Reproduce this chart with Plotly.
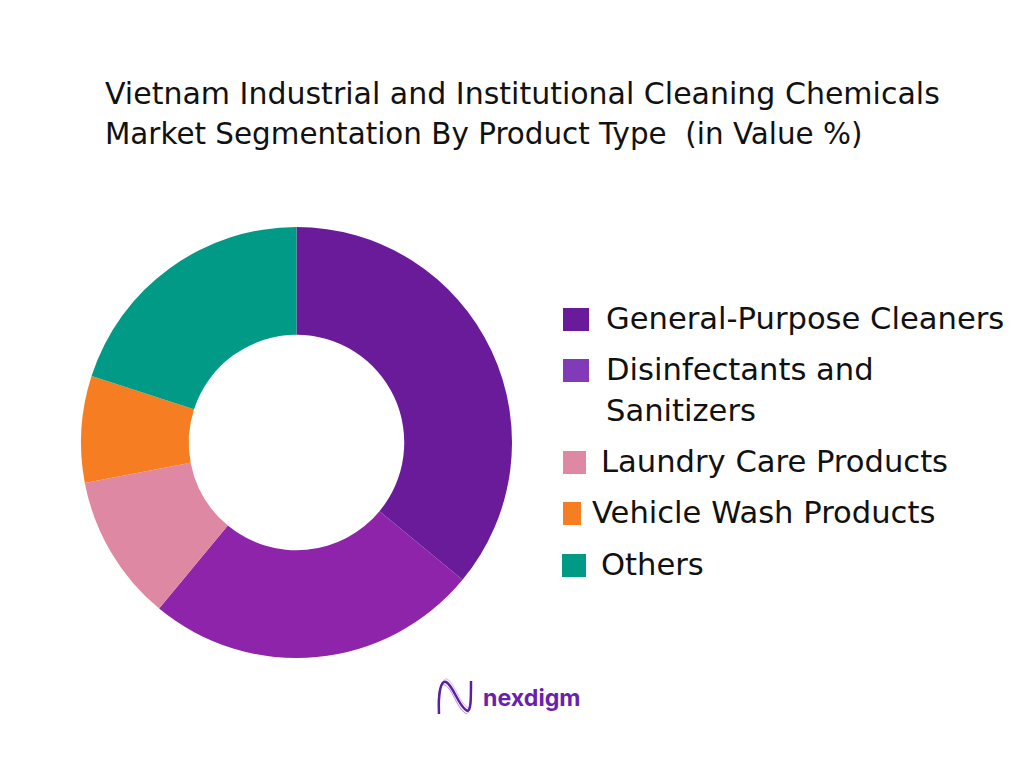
import plotly.graph_objects as go

### Data ###
categories = [
    "General-Purpose Cleaners",
    "Disinfectants and<br>Sanitizers",
    "Laundry Care Products",
    "Vehicle Wash Products",
    "Others",
]
values = [36, 25, 11, 8, 20]
colors = ["#691b9a", "#8e24aa", "#df88a3", "#f77d22", "#009a87"]
legend_colors = ["#691b9a", "#823bb8", "#df88a3", "#f77d22", "#009a87"]
title_lines = [
    "Vietnam Industrial and Institutional Cleaning Chemicals",
    "Market Segmentation By Product Type  (in Value %)",
]
brand = "nexdigm"

W, H = 1024, 768
FONT = "DejaVu Sans"
TITLE_SIZES = [30, 29.4]
LEGEND_SIZE = 30.6
LINE_GAP = 41

# legend layout, in pixels from the top left: swatch x0, x1, y0, y1, text x, text y
legend_boxes = [
    (563, 589, 308, 331, 604, 318),
    (563, 589, 359, 382, 604, 369),
    (563, 586, 451, 474, 599, 461),
    (563, 581, 502, 525, 590, 512),
    (562, 586, 554, 577, 599, 564),
]


def px(x):
    return x / W


def py(y):
    return 1 - y / H


def text_at(text, x, y, size, color="#111111", family=FONT):
    return dict(
        text=text,
        x=px(x),
        y=py(y),
        xref="paper",
        yref="paper",
        xanchor="left",
        yanchor="middle",
        showarrow=False,
        font=dict(family=family, size=size, color=color),
    )


fig = go.Figure()
fig.add_trace(
    go.Pie(
        labels=[c.replace("<br>", " ") for c in categories],
        values=values,
        sort=False,
        direction="clockwise",
        rotation=0,
        hole=0.5,
        textinfo="none",
        hoverinfo="label+percent",
        marker=dict(colors=colors, line=dict(width=0)),
        domain=dict(x=[px(81), px(512)], y=[py(658), py(227)]),
        showlegend=False,
    )
)

shapes = []
annotations = []

for i, line in enumerate(title_lines):
    annotations.append(text_at(line, 103, 93 + i * LINE_GAP, TITLE_SIZES[i]))

for name, color, box in zip(categories, legend_colors, legend_boxes):
    x0, x1, y0, y1, tx, ty = box
    shapes.append(
        dict(
            type="rect",
            xref="paper",
            yref="paper",
            x0=px(x0),
            x1=px(x1),
            y0=py(y0),
            y1=py(y1),
            fillcolor=color,
            line=dict(width=0),
        )
    )
    # wrapped labels get one annotation per line
    for j, part in enumerate(name.split("<br>")):
        annotations.append(text_at(part, tx, ty + j * LINE_GAP, LEGEND_SIZE))

# logo wave
for color, width, dx, dy in [
    ("#d3b5e8", 1, 1, -3),
    ("#b68ad8", 1, -1, 3),
    ("#5b1fa6", 2.5, 0, 0),
]:
    path = (
        f"M {px(439)} {py(714)} "
        f"C {px(438 + dx)} {py(692)}, {px(441 + dx)} {py(680 + dy)}, {px(446 + dx)} {py(682 + dy)} "
        f"C {px(453 + dx)} {py(685 + dy)}, {px(458 + dx)} {py(705 + dy)}, {px(466 + dx)} {py(710 + dy)} "
        f"C {px(471 + dx)} {py(714 + dy)}, {px(471)} {py(700)}, {px(471)} {py(681)}"
    )
    shapes.append(
        dict(type="path", xref="paper", yref="paper", path=path, line=dict(color=color, width=width))
    )

annotations.append(text_at(f"<b>{brand}</b>", 481, 698, 23.2, "#6a1fb0", "Inter"))

fig.update_layout(
    width=W,
    height=H,
    margin=dict(l=0, r=0, t=0, b=0),
    paper_bgcolor="white",
    plot_bgcolor="white",
    shapes=shapes,
    annotations=annotations,
)

fig.write_html(
    "out.html",
    config=dict(displayModeBar=False),
    post_script="document.body.style.margin='0';document.body.style.overflow='hidden';",
)
